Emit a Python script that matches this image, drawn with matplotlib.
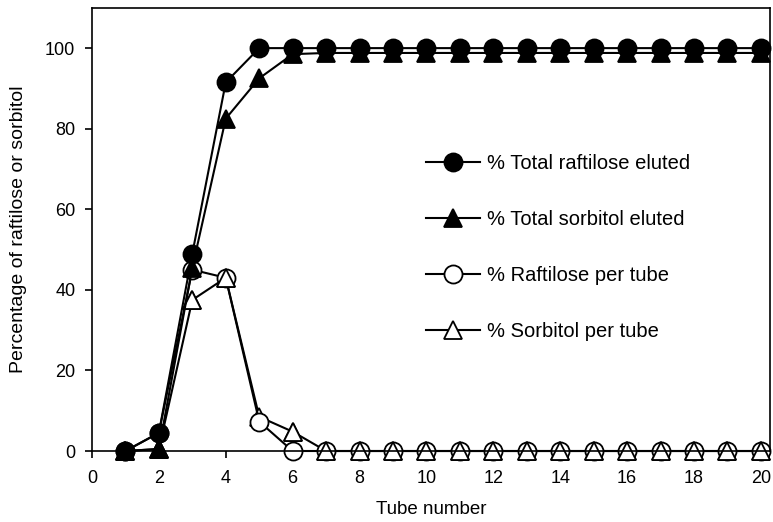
import matplotlib.pyplot as plt

tubes = list(range(1, 21))

# cumulative elution (%)
total_raftilose = [0, 4.5, 49, 91.5, 100, 100, 100, 100, 100, 100,
                   100, 100, 100, 100, 100, 100, 100, 100, 100, 100]
total_sorbitol = [0, 0.5, 45.5, 82.5, 92.5, 98.5, 98.8, 98.8, 98.8, 98.8,
                  98.8, 98.8, 98.8, 98.8, 98.8, 98.8, 98.8, 98.8, 98.8, 98.8]

# per tube (%)
raftilose_tube = [0, 4.5, 45, 43, 7.3, 0, 0, 0, 0, 0,
                  0, 0, 0, 0, 0, 0, 0, 0, 0, 0]
sorbitol_tube = [0, 0.5, 37.5, 43, 8.5, 4.8, 0, 0, 0, 0,
                 0, 0, 0, 0, 0, 0, 0, 0, 0, 0]

labels = ['% Total raftilose eluted', '% Total sorbitol eluted',
          '% Raftilose per tube', '% Sorbitol per tube']

plt.rcParams['font.family'] = ['Liberation Sans', 'DejaVu Sans']

fig = plt.figure(figsize=(7.73, 5.22), dpi=100)
ax = fig.add_axes([0.119, 0.136, 0.877, 0.849])

ms = 13
common = dict(color='black', lw=1.5, markeredgewidth=1.3, clip_on=False)
l4, = ax.plot(tubes, sorbitol_tube, marker='^', markersize=ms,
              markerfacecolor='white', markeredgecolor='black', label=labels[3], **common)
l3, = ax.plot(tubes, raftilose_tube, marker='o', markersize=ms,
              markerfacecolor='white', markeredgecolor='black', label=labels[2], **common)
# open triangles sit on top of the circles except at tube 5
ax.plot(tubes, sorbitol_tube, marker='^', markersize=ms, linestyle='none',
        markevery=[i for i in range(len(tubes)) if i != 4],
        markerfacecolor='white', markeredgecolor='black', markeredgewidth=1.3, clip_on=False)
l2, = ax.plot(tubes, total_sorbitol, marker='^', markersize=ms,
              markerfacecolor='black', markeredgecolor='black', label=labels[1], **common)
l1, = ax.plot(tubes, total_raftilose, marker='o', markersize=ms,
              markerfacecolor='black', markeredgecolor='black', label=labels[0], **common)

ax.set_xlim(0, 20.27)
ax.set_ylim(0, 110)
ax.set_xticks(range(0, 21, 2))
ax.set_yticks(range(0, 101, 20))
ax.tick_params(direction='out', length=5, width=1.2, labelsize=13)
ax.tick_params(axis='x', pad=9)
ax.tick_params(axis='y', pad=7)
for s in ax.spines.values():
    s.set_linewidth(1.2)

ax.set_xlabel('Tube number', fontsize=13.5, labelpad=10)
ax.set_ylabel('Percentage of raftilose or sorbitol', fontsize=14, labelpad=13)

ax.legend(handles=[l1, l2, l3, l4], loc='upper left', bbox_to_anchor=(0.466, 0.712),
          frameon=False, fontsize=14.5, handlelength=2.7, labelspacing=1.85,
          handletextpad=0.35)

fig.savefig('out.png', dpi=100)
